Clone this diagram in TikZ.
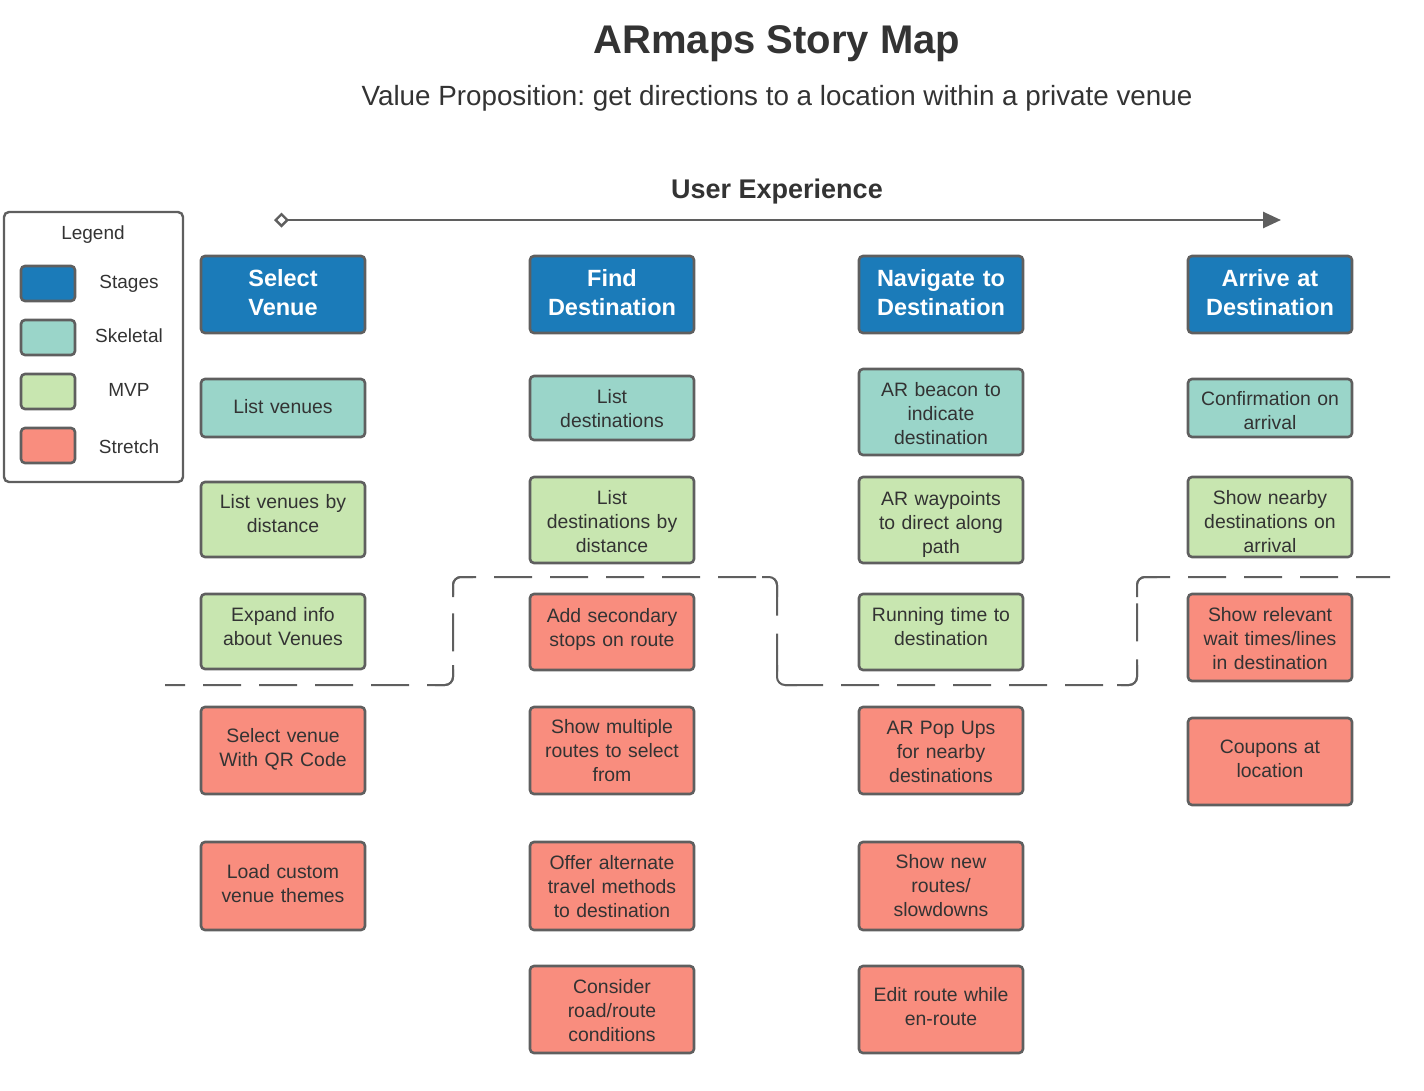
\documentclass[tikz,border=0pt]{standalone}
\usepackage{fontspec}
\setmainfont{Liberation Sans}
\usetikzlibrary{arrows.meta}
\frenchspacing
\definecolor{stageblue}{HTML}{1B7BB9}
\definecolor{skel}{HTML}{9AD5C9}
\definecolor{mvp}{HTML}{C8E6B0}
\definecolor{stretch}{HTML}{F98D7E}
\definecolor{edge}{HTML}{5F5F5F}
\definecolor{txt}{HTML}{333333}
\tikzset{
  card/.style={draw=edge, line width=2.6pt, rounded corners=4pt, minimum width=164pt, inner sep=0pt},
  cardtext/.style={text width=156pt, align=center, inner sep=0pt, text=txt, font=\fontsize{19.4}{24}\selectfont},
  stagetext/.style={text width=156pt, align=center, inner sep=0pt, text=white, font=\fontsize{23.5}{29}\selectfont\bfseries},
  stage/.style={card, fill=stageblue},
  skelbox/.style={card, fill=skel},
  mvpbox/.style={card, fill=mvp},
  strbox/.style={card, fill=stretch},
  swatch/.style={draw=edge, line width=2.6pt, rounded corners=4pt, minimum width=54pt, minimum height=35pt, inner sep=0pt},
  legtext/.style={text=txt, font=\fontsize{19}{24}\selectfont},
  cutline/.style={draw=edge, line width=2pt, dash pattern=on 38pt off 18pt, dash phase=18pt, rounded corners=8pt},
  cutcorner/.style={draw=edge, line width=2pt, rounded corners=8pt}
}
% #1 style, #2 name, #3 x, #4 box y, #5 height, #6 text y, #7 text
\newcommand\mkcard[7]{%
  \node[#1, minimum height=#5pt] (#2) at (#3,#4) {};
  \node[cardtext] (#2t) at (#3,#6) {#7};}
% #1 name, #2 x, #3 text
\newcommand\mkstage[3]{%
  \node[stage, minimum height=77pt] (#1) at (#2,294.5) {};
  \node[stagetext] (#1t) at (#2,292.5) {#3};}
\begin{document}
\begin{tikzpicture}[x=1pt,y=-1pt]
\useasboundingbox (0,0) rectangle (1424,1090);
% titles
\node[text=txt, font=\fontsize{40}{48}\selectfont\bfseries] (title) at (777,44) {ARmaps Story Map};
\node[text=txt, font=\fontsize{27.8}{33}\selectfont] (sub) at (777,98) {Value Proposition: get directions to a location within a private venue};
\node[text=txt, font=\fontsize{27}{32}\selectfont\bfseries] (ux) at (777,192) {User Experience};
\coordinate (axs) at (274,220);
\coordinate (axe) at (1281,220);
\draw[edge, line width=2.6pt, {Diamond[open, length=15pt, width=15pt, line width=2.4pt]}-{Triangle[length=18pt, width=16pt]}] (axs) -- (axe);
% legend
\node[draw=edge, line width=2.4pt, rounded corners=5pt, minimum width=179pt, minimum height=270pt, inner sep=0pt] (legend) at (93.5,347) {};
\node[legtext] (legt) at (93,235) {Legend};
\node[swatch, fill=stageblue] (sw1) at (48,283.5) {};
\node[swatch, fill=skel] (sw2) at (48,337.5) {};
\node[swatch, fill=mvp] (sw3) at (48,391.5) {};
\node[swatch, fill=stretch] (sw4) at (48,445.5) {};
\node[legtext] (l1) at (129,284) {Stages};
\node[legtext] (l2) at (129,336) {Skeletal};
\node[legtext] (l3) at (129,390) {MVP};
\node[legtext] (l4) at (129,447) {Stretch};
% dashed release line
\draw[cutline] (165,685) -- (453,685) -- (453,577) -- (777,577) -- (777,685) -- (1137,685) -- (1137,577) -- (1390,577);
\draw[cutcorner] (435,685) -- (453,685) -- (453,665);
\draw[cutcorner] (453,597) -- (453,577) -- (473,577);
\draw[cutcorner] (762,577) -- (777,577) -- (777,597);
\draw[cutcorner] (777,665) -- (777,685) -- (797,685);
\draw[cutcorner] (1117,685) -- (1137,685) -- (1137,665);
\draw[cutcorner] (1137,597) -- (1137,577) -- (1157,577);
% column 1
\mkstage{s1}{283}{Select\\Venue}
\mkcard{skelbox}{c1a}{283}{408}{58}{407}{List venues}
\mkcard{mvpbox}{c1b}{283}{519.5}{75}{513.5}{List venues by\\distance}
\mkcard{mvpbox}{c1c}{283}{631.5}{75}{626.5}{Expand info\\about Venues}
\mkcard{strbox}{c1d}{283}{750.5}{87}{749.5}{Select venue\\With QR Code}
\mkcard{strbox}{c1e}{283}{886}{88}{884}{Load custom\\venue themes}
% column 2
\mkstage{s2}{612}{Find\\Destination}
\mkcard{skelbox}{c2a}{612}{408}{64}{409}{List\\destinations}
\mkcard{mvpbox}{c2b}{612}{520}{86}{522}{List\\destinations by\\distance}
\mkcard{strbox}{c2c}{612}{632}{76}{629}{Add secondary\\stops on route}
\mkcard{strbox}{c2d}{612}{750.5}{87}{750.5}{Show multiple\\routes to select\\from}
\mkcard{strbox}{c2e}{612}{886}{88}{887}{Offer alternate\\travel methods\\to destination}
\mkcard{strbox}{c2f}{612}{1009.5}{87}{1010.5}{Consider\\road/route\\conditions}
% column 3
\mkstage{s3}{941}{Navigate to\\Destination}
\mkcard{skelbox}{c3a}{941}{412}{86}{414}{AR beacon to\\indicate\\destination}
\mkcard{mvpbox}{c3b}{941}{520}{86}{524}{AR waypoints\\to direct along\\path}
\mkcard{mvpbox}{c3c}{941}{632}{76}{627}{Running time to\\destination}
\mkcard{strbox}{c3d}{941}{750.5}{87}{751.5}{AR Pop Ups\\for nearby\\destinations}
\mkcard{strbox}{c3e}{941}{886}{88}{886}{Show new\\routes/\\slowdowns}
\mkcard{strbox}{c3f}{941}{1009.5}{87}{1006.5}{Edit route while\\en-route}
% column 4
\mkstage{s4}{1270}{Arrive at\\Destination}
\mkcard{skelbox}{c4a}{1270}{408}{58}{411}{Confirmation on\\arrival}
\mkcard{mvpbox}{c4b}{1270}{517}{80}{522}{Show nearby\\destinations on\\arrival}
\mkcard{strbox}{c4c}{1270}{637.5}{87}{638.5}{Show relevant\\wait times/lines\\in destination}
\mkcard{strbox}{c4d}{1270}{761.5}{87}{758.5}{Coupons at\\location}
\end{tikzpicture}
\end{document}
